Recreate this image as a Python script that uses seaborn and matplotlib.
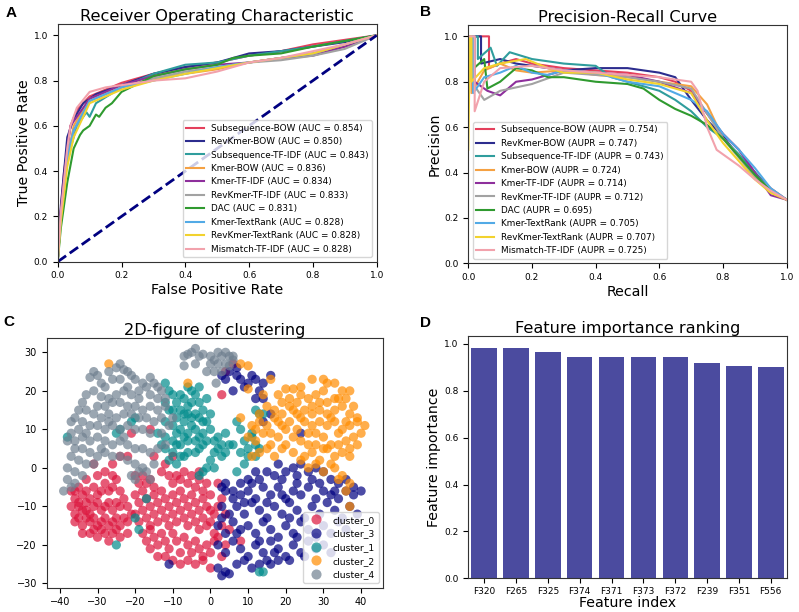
import numpy as np
import pandas as pd
import matplotlib
matplotlib.use("Agg")
import matplotlib.pyplot as plt
import seaborn as sns

# ---------------- data ----------------
models = ["Subsequence-BOW", "RevKmer-BOW", "Subsequence-TF-IDF", "Kmer-BOW",
          "Kmer-TF-IDF", "RevKmer-TF-IDF", "DAC", "Kmer-TextRank",
          "RevKmer-TextRank", "Mismatch-TF-IDF"]
auc = [0.854, 0.850, 0.843, 0.836, 0.834, 0.833, 0.831, 0.828, 0.828, 0.828]
aupr = [0.754, 0.747, 0.743, 0.724, 0.714, 0.712, 0.695, 0.705, 0.707, 0.725]
colors = ["#e4405c", "#2c2c8e", "#2f9d9d", "#f5a142", "#8e2f9c",
          "#a2a2a2", "#2f9a2f", "#52aae6", "#f2d22e", "#f2a2ac"]

roc_fpr = [
    [0, .005, .02, .04, .06, .1, .15, .2, .3, .4, .5, .6, .7, .8, .9, 1],
    [0, .01, .03, .05, .08, .12, .2, .3, .4, .5, .6, .7, .8, .9, 1],
    [0, .01, .03, .06, .09, .1, .12, .2, .3, .4, .5, .6, .7, .8, 1],
    [0, .01, .03, .05, .1, .2, .3, .5, .6, .8, .9, 1],
    [0, .01, .03, .04, .1, .2, .3, .4, .5, .6, .7, .8, .9, 1],
    [0, .01, .03, .05, .1, .2, .3, .4, .5, .6, .7, .8, .9, 1],
    [0, .01, .03, .05, .07, .08, .1, .12, .13, .15, .17, .2, .3, .4, .5, .55, .6, .7, .8, 1],
    [0, .01, .03, .05, .1, .2, .3, .4, .5, .6, .8, 1],
    [0, .01, .03, .05, .1, .2, .3, .4, .6, .8, .9, 1],
    [0, .01, .03, .04, .06, .1, .15, .3, .4, .5, .6, .7, .8, .9, 1],
]
roc_tpr = [
    [0, .15, .4, .6, .67, .73, .76, .79, .83, .86, .88, .91, .93, .96, .98, 1],
    [0, .25, .55, .63, .70, .74, .78, .83, .86, .88, .92, .93, .95, .97, 1],
    [0, .2, .45, .6, .66, .64, .70, .77, .83, .87, .88, .91, .93, .95, 1],
    [0, .2, .45, .6, .72, .77, .81, .85, .88, .92, .95, 1],
    [0, .22, .5, .6, .72, .78, .82, .85, .87, .88, .90, .91, .95, 1],
    [0, .2, .48, .58, .71, .77, .81, .84, .86, .88, .89, .91, .94, 1],
    [0, .15, .35, .5, .56, .58, .60, .65, .64, .68, .70, .75, .82, .85, .87, .9, .91, .92, .95, 1],
    [0, .2, .45, .58, .71, .77, .80, .83, .86, .88, .92, 1],
    [0, .18, .42, .55, .70, .76, .80, .83, .88, .92, .96, 1],
    [0, .22, .5, .6, .68, .75, .77, .80, .81, .84, .88, .90, .93, .96, 1],
]

pr_rec = [
    [0, .065, .065, .1, .15, .2, .25, .3, .4, .5, .6, .65, .7, .75, .8, .85, .9, .95, 1],
    [0, .04, .04, .1, .15, .3, .4, .5, .6, .65, .7, .75, .8, .85, .9, .95, 1],
    [0, .03, .03, .07, .09, .13, .2, .3, .4, .45, .5, .6, .65, .7, .75, .8, .85, .9, .95, 1],
    [0, .01, .01, .05, .1, .15, .2, .3, .4, .5, .6, .7, .75, .8, .85, .9, .95, 1],
    [0, .02, .02, .06, .1, .15, .2, .3, .4, .5, .6, .7, .8, .85, .9, .95, 1],
    [0, .02, .02, .05, .1, .2, .3, .4, .5, .6, .7, .8, .9, 1],
    [0, .01, .01, .05, .06, .1, .15, .2, .25, .3, .4, .5, .55, .6, .65, .7, .75, .8, .85, .9, .95, 1],
    [0, .015, .015, .05, .1, .15, .2, .25, .3, .4, .5, .6, .7, .75, .8, .85, .9, .95, 1],
    [0, .005, .01, .01, .05, .1, .18, .25, .3, .4, .5, .6, .7, .75, .8, .85, .9, .95, 1],
    [0, .02, .02, .05, .1, .2, .3, .4, .5, .6, .7, .72, .75, .78, .85, .9, .95, 1],
]
pr_prec = [
    [1, 1, .86, .88, .9, .88, .87, .86, .85, .84, .82, .8, .76, .66, .57, .5, .4, .33, .28],
    [1, 1, .88, .9, .88, .85, .86, .86, .84, .82, .72, .63, .56, .47, .4, .32, .28],
    [1, 1, .9, .95, .87, .93, .9, .88, .87, .82, .8, .76, .72, .67, .6, .55, .48, .4, .32, .28],
    [1, 1, .75, .85, .88, .85, .84, .85, .83, .82, .8, .78, .7, .55, .47, .38, .32, .28],
    [1, 1, .8, .76, .74, .8, .81, .85, .84, .83, .8, .75, .57, .5, .4, .3, .28],
    [1, 1, .78, .72, .76, .79, .84, .83, .82, .8, .77, .55, .38, .28],
    [1, 1, .85, .9, .77, .8, .86, .85, .82, .82, .8, .79, .77, .72, .68, .65, .61, .55, .47, .39, .32, .28],
    [1, 1, .75, .82, .84, .87, .84, .83, .85, .84, .8, .78, .72, .67, .57, .5, .42, .33, .28],
    [.5, 1, 1, .8, .86, .88, .9, .86, .84, .84, .81, .79, .75, .63, .53, .45, .37, .31, .28],
    [1, 1, .67, .8, .86, .87, .85, .84, .83, .82, .8, .76, .6, .5, .43, .37, .32, .28],
]

cluster_names = ["cluster_0", "cluster_3", "cluster_1", "cluster_2", "cluster_4"]
cluster_colors = ["crimson", "navy", "darkcyan", "darkorange", "slategray"]

cluster_0_pts = [
    (-37,-6),(-36,-8),(-35,-5),(-34,-7),(-33,-6),(-32,-8),(-31,-5),(-30,-7),(-29,-6),(-28,-4),(-27,-6),(-26,-5),(-25,-3),(-24,-6),
    (-37,-10),(-36,-12),(-35,-10),(-34,-11),(-33,-9),(-32,-12),(-31,-10),(-30,-9),(-29,-11),(-28,-10),(-27,-9),(-26,-11),(-25,-9),(-24,-10),(-23,-8),(-22,-10),
    (-36,-14),(-35,-13),(-34,-15),(-33,-13),(-32,-14),(-31,-13),(-30,-15),(-29,-14),(-28,-13),(-27,-15),(-26,-14),(-25,-13),(-24,-15),(-23,-13),(-22,-14),(-21,-12),
    (-34,-17),(-32,-17),(-30,-18),(-28,-17),(-27,-19),(-26,-17),(-24,-18),(-22,-17),(-29,-16),(-25,-16),(-31,-16),(-35,-9),(-33,-11),(-36,-6),
    (-33,-3),(-30,-2),(-28,-1),(-26,1),(-24,3),(-31,1),(-22,3),(-26,-2),
    (-20,-2),(-19,-4),(-18,-2),(-17,-4),(-16,-3),(-15,-5),(-13,-1),(-12,1),(-11,-2),(-10,-4),(-9,-2),(-8,-3),(-7,-1),(-6,-4),(-5,-2),(-4,-5),(-3,-3),(-2,-6),(-1,-4),(0,-7),
    (-20,-7),(-19,-9),(-18,-6),(-17,-8),(-16,-10),(-15,-7),(-14,-9),(-13,-6),(-12,-8),(-11,-10),(-10,-7),(-9,-9),(-8,-6),(-7,-8),(-6,-10),(-5,-7),(-4,-9),(-3,-11),(-2,-8),(-1,-10),(0,-11),(1,-12),
    (-20,-12),(-19,-14),(-18,-11),(-17,-13),(-16,-15),(-15,-12),(-14,-14),(-13,-11),(-12,-13),(-11,-15),(-10,-12),(-9,-14),(-8,-11),(-7,-13),(-6,-15),(-5,-12),(-4,-14),(-3,-16),(-2,-13),(-1,-15),(0,-14),(1,-17),
    (-18,-17),(-17,-19),(-16,-16),(-15,-18),(-14,-20),(-13,-17),(-12,-19),(-11,-21),(-10,-17),(-9,-19),(-8,-22),(-7,-18),(-6,-20),(-5,-22),(-4,-19),(-3,-21),(-2,-23),(-1,-20),(0,-22),(1,-19),
    (-12,-23),(-10,-24),(-8,-25),(-6,-24),(-4,-25),(-2,-24),(0,-26),(-14,-23),(-16,-21),
    (2,-4),(3,-8),(2,-10),(4,-12),(3,-15),(2,-18),(4,-20),(3,-23),(5,-16),
    (-21,9),(-16,10),(-15,3),(3,19),(4,25),(6,27),(8,-19),(-10,3),(-3,-1),
]
cluster_3_pts = [
    (20,-1),(22,0),(24,1),(26,-1),(28,0),(30,-1),(32,-3),(34,-4),(36,-3),(38,-5),(17,-2),(15,-1),(12,-1),(10,-3),(6,-6),(8,-4),(13,-3),(19,-3),
    (4,-6),(6,-8),(8,-7),(10,-6),(12,-8),(14,-5),(16,-7),(18,-5),(20,-8),(22,-6),(24,-7),(26,-5),(28,-8),(30,-6),(32,-7),(34,-8),(36,-6),(38,-7),(40,-6),
    (3,-10),(5,-12),(7,-10),(9,-12),(11,-9),(13,-11),(15,-13),(17,-10),(19,-12),(21,-9),(23,-11),(25,-13),(27,-10),(29,-12),(31,-9),(33,-11),(35,-13),(37,-10),(39,-12),
    (2,-15),(4,-17),(6,-14),(8,-16),(10,-15),(12,-17),(14,-14),(16,-16),(18,-18),(20,-15),(22,-17),(24,-14),(26,-16),(28,-18),(30,-15),(32,-17),(34,-14),(36,-16),(3,-13),
    (2,-20),(4,-22),(6,-19),(8,-21),(10,-23),(12,-20),(14,-22),(16,-19),(18,-21),(20,-23),(22,-20),(24,-22),(26,-19),(28,-21),(30,-20),(32,-22),(25,-23),(15,-24),
    (2,-26),(3,-28),(4,-27),(5,-27.5),(7,-25),(9,-24),(11,-26),(13,-25),(16,-25),(18,-24),(21,-24),
    (11,-4),(15,-9),(19,-7),(23,-4),(27,-3),(9,-9),(21,-13),(29,-4),(33,-6),(13,-19),(17,-22),(23,-18),(7,-17),
    (3,24),(5,25),(7,24),(8,23),(10,22),(11,24),(12,23),(14,22),(16,24),(12,18),(9,21),(6,20),(14,18),(4,23),(7,26),(13,20),
    (16,14),(14,12),(18,1),(24,9),(23,-2),(4,-4),(3,-5),(-11,-25),
]
cluster_1_pts = [
    (-12,22),(-11,20),(-10,19),(-12,17),(-9,17),(-11,15),(-8,15),(-7,18),(-6,16),(-5,17),(-4,19),(-3,17),(-2,15),(-1,18),(-6,21),(-5,20),(-3,21),
    (-9,13),(-7,12),(-5,13),(-3,13),(-1,12),(0,14),(-10,11),(-8,10),(-6,9),(-4,10),(-2,9),(0,10),(-12,8),(-10,7),(-8,6),(-6,7),(-4,7),(-2,6),
    (-12,5),(-10,4),(-8,3),(-6,4),(-4,4),(-11,2),(-9,1),(-7,3),(-13,6),(-14,9),(-9,9),(-7,8),(-5,11),(-3,8),(-1,7),(-2,12),(-8,19),(-4,14),
    (-6,14),(-10,15),(-12,12),(-3,5),(-7,14),(-9,6),
    (1,7),(2,5),(3,6),(4,4),(5,6),(2,8),(4,9),(3,3),(1,4),(0,2),(-1,0),(-3,-2),(-2,-1),(1,0),(6,6),
    (7,12),(8,10),(9,7),(10,5),(11,8),(12,6),(13,5),(10,3),(8,4),(12,15),(13,14),(14,14),(11,9),(9,1),(7,-1),(12,3),
    (-25,9),(-24,10),(-20,13),(-21,12),(-17,-8),(-20,-13),(-19,-16),(-25,-20),(-38,8),(13,-27),(14,-27),
]
cluster_2_pts = [
    (27,23),(30,23),(31,22),(33,22),(24,21),(22,20.5),(20,20.5),
    (14,19),(18,19),(21,18),(24,19),(26,18),(28,19),(30,20),(35,20),(37,20),(36,18),(33,18),(31,17),(19,17),(23,17),(27,16),
    (13,14),(15,16),(17,15),(19,14),(21,16),(23,14),(25,15),(27,14),(29,15),(31,14),(33,15),(35,16),(37,14),(39,13),(38,16),(29,17),
    (11,11),(13,12),(15,11),(17,13),(19,11),(21,12),(23,10),(25,12),(27,11),(29,12),(31,11),(33,12),(35,10),(37,11),(39,12),(41,11),(40,9),
    (10,8),(12,7),(14,9),(16,6),(18,8),(20,6),(22,8),(24,7),(26,9),(28,6),(30,8),(32,6),(34,9),(36,7),(38,8),(39,6),(37,5),
    (11,3),(13,4),(15,5),(17,3),(19,5),(22,4),(25,3),(27,4),(29,2),(31,5),(33,3),(35,4),(37,3),(24,2),
    (26,0),(28,1),(30,-1),(33,0),(35,-2),(37,-4),(36,-6),(34,-3),(32,1),
    (16,9),(20,10),(24,13),(28,9),(32,13),(36,12),(18,12),(26,6),(30,5),(34,6),(22,15),(34,18),
    (-27,27),(-6,22),(8,27),(10,26.5),(16,23),(37,-10),(8,13),(10,20.5),(12,10),
]
cluster_4_pts = [
    (-24,27),(-25,26),(-23,25.5),(-22,25),(-21,24),(-27,25),(-30,24),(-31,25),(-32,23.5),(-29,22),(-26,23),(-24,23),(-20,23),(-18,22),
    (-16,23.5),(-15,22),(-17,21),(-14,21),(-13,20),(-12,18),(-14,18),(-16,19),(-19,18),(-21,19),(-23,20),(-25,19),(-27,18),(-29,18.5),
    (-31,20),(-33,19),(-30,16),(-28,16),(-26,17),(-24,17),(-22,16),(-20,16),(-18,15),(-16,16),(-14,15),(-12,16),(-13,13),(-15,12),
    (-17,13),(-19,13),(-21,14),(-23,14),(-25,13),(-27,14),(-29,13),(-31,14),(-33,15),(-35,15),(-36,13),(-37,12),(-34,12),(-32,11),
    (-30,11),(-28,10),(-26,11),(-24,10),(-22,11),(-20,10),(-18,10),(-16,9),(-35,10),(-37,9),(-38,7),(-36,7),(-34,8),(-32,7),(-30,8),
    (-28,7),(-26,6),(-24,7),(-22,6),(-20,5),(-18,5),(-36,5),(-34,5),(-32,4),(-30,3),(-28,4),(-26,3),(-24,3),(-22,2),(-37,3),(-35,2),
    (-33,1),(-31,1),(-38,0),(-36,-1),(-34,-2),(-38,-3),(-37,-5),(-39,-6),(-36,-4),(-20,1),(-19,-1),(-18,0),(-17,-1),(-20,-3),(-15,1),
    (-21,-2),(-16,4),(-14,5),(-13,9),(-11,11),(-10,13),(-16,-3),(-12,6),(-28,21),(-22,21),(-34,17),(-19,20),(-27,12),(-23,8),(-33,9),(-29,5),
    (-7,29),(-6,29.5),(-5,30),(-4,31),(-3,29),(-4,27),(-7,26.5),(-2,29.5),(0,29),(1,28),(2,30),(3,29),(4,30),(5,29),(6,28),(0,27),
    (1,25),(-1,25),(2,27),(4,27),(3,25),(1.5,22),(6,29),(5,26.5),
]

features = ["F320", "F265", "F325", "F374", "F371", "F373", "F372", "F239", "F351", "F556"]
importance = [0.984, 0.981, 0.966, 0.943, 0.943, 0.943, 0.943, 0.917, 0.908, 0.902]

# ---------------- figure ----------------
W, H = 799, 612
fig = plt.figure(figsize=(W / 100, H / 100), dpi=100)

def px_axes(l, t, r, b):
    return fig.add_axes([l / W, 1 - b / H, (r - l) / W, (b - t) / H])

TITLE = 11.6
LABEL = 10.2
TICK = 6.5

axA = px_axes(57.7, 24, 376.7, 261.7)
axB = px_axes(468.3, 25, 786.7, 263.3)
axC = px_axes(46.7, 337.7, 383.3, 587.7)
axD = px_axes(468.3, 336, 786.7, 578.3)

# A: ROC
for name, a, c, xs, ys in zip(models, auc, colors, roc_fpr, roc_tpr):
    sns.lineplot(x=xs, y=ys, color=c, lw=1.5, sort=False, estimator=None,
                 label=f"{name} (AUC = {a:.3f})", ax=axA)
sns.lineplot(x=[0, 1], y=[0, 1], color="navy", lw=2, linestyle="--", ax=axA)
axA.set_xlim(0, 1)
axA.set_ylim(0, 1.05)
axA.set_title("Receiver Operating Characteristic", fontsize=TITLE, pad=1.5)
axA.set_xlabel("False Positive Rate", fontsize=LABEL, labelpad=2)
axA.set_ylabel("True Positive Rate", fontsize=LABEL, labelpad=2)
axA.legend(loc="lower right", fontsize=6.4)

# B: PR
for name, a, c, xs, ys in zip(models, aupr, colors, pr_rec, pr_prec):
    sns.lineplot(x=xs, y=ys, color=c, lw=1.5, sort=False, estimator=None,
                 label=f"{name} (AUPR = {a:.3f})", ax=axB)
axB.set_xlim(0, 1)
axB.set_ylim(0, 1.05)
axB.set_title("Precision-Recall Curve", fontsize=TITLE, pad=1.5)
axB.set_xlabel("Recall", fontsize=LABEL, labelpad=2)
axB.set_ylabel("Precision", fontsize=LABEL, labelpad=2)
axB.legend(loc="lower left", fontsize=6.4)

# C: clustering scatter
pts_list = [cluster_0_pts, cluster_3_pts, cluster_1_pts, cluster_2_pts, cluster_4_pts]
rows = []
for nm, pts in zip(cluster_names, pts_list):
    for x, y in pts:
        rows.append((x, y, nm))
df = pd.DataFrame(rows, columns=["x", "y", "cluster"])
sns.scatterplot(data=df, x="x", y="y", hue="cluster", hue_order=cluster_names,
                palette=cluster_colors, s=44, alpha=0.7, linewidth=0, ax=axC)
axC.set_xlim(-43.5, 45.9)
axC.set_ylim(-31.1, 33.8)
axC.set_xticks(range(-40, 41, 10))
axC.set_yticks(range(-30, 31, 10))
axC.set_xlabel("")
axC.set_ylabel("")
axC.set_title("2D-figure of clustering", fontsize=TITLE, pad=1.5)
sns.move_legend(axC, "lower right", title=None, fontsize=6.7, markerscale=1.1)

# D: feature importance
sns.barplot(x=features, y=importance, color="#4b4b9f", saturation=1, width=0.8, ax=axD)
axD.set_ylim(0, 1.034)
axD.set_title("Feature importance ranking", fontsize=TITLE, pad=1.5)
axD.set_xlabel("Feature index", fontsize=LABEL, labelpad=0)
axD.set_ylabel("Feature importance", fontsize=LABEL, labelpad=2)

for ax in (axA, axB, axD):
    ax.tick_params(labelsize=TICK)
axD.tick_params(axis="x", pad=2.5)
axC.tick_params(labelsize=7)
for ax in (axA, axB, axC, axD):
    for sp in ax.spines.values():
        sp.set_color("#333333")

# panel letters
for letter, x, y in [("A", 6, 17), ("B", 420, 16), ("C", 3, 326), ("D", 420, 327)]:
    fig.text(x / W, 1 - y / H, letter, fontsize=11, fontweight="bold",
             family=["Liberation Sans", "DejaVu Sans"], va="baseline", ha="left")

fig.savefig("out.png", dpi=100)
